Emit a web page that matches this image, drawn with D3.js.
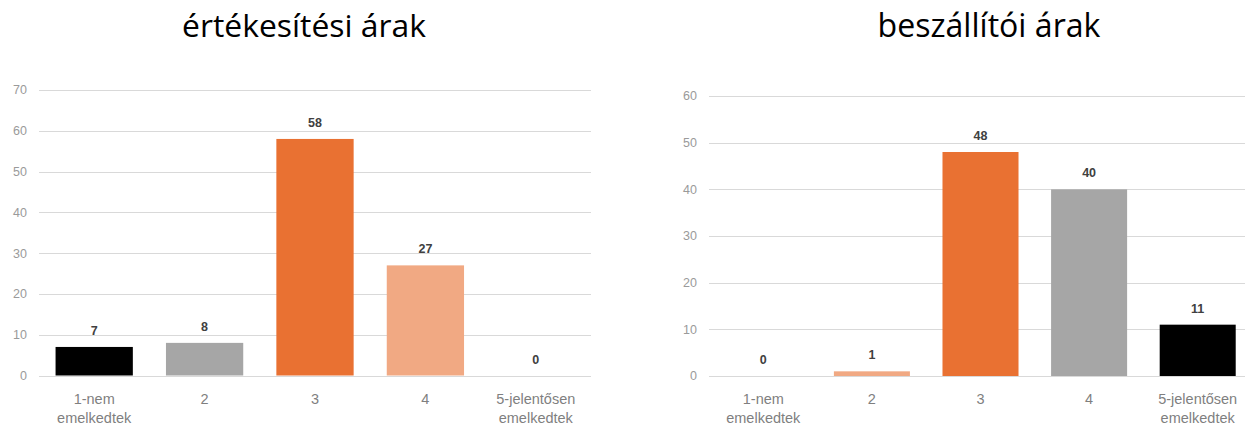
<!DOCTYPE html>
<html>
<head>
<meta charset="utf-8">
<script src="https://cdn.jsdelivr.net/npm/d3@7"></script>
<style>
  html, body { margin: 0; padding: 0; background: #fff; }
  svg { display: block; }
</style>
</head>
<body>
<svg id="chart" width="1245" height="426"></svg>
<script>
// ---- data ----
const categories = ["1-nem\nemelkedtek", "2", "3", "4", "5-jelentősen\nemelkedtek"];
const salesTitle = "értékesítési árak";
const salesValues = [7, 8, 58, 27, 0];
const salesColors = ["#000000", "#A6A6A6", "#E97132", "#F1A983", "#000000"];
const salesTicks = [0, 10, 20, 30, 40, 50, 60, 70];

const supplierTitle = "beszállítói árak";
const supplierValues = [0, 1, 48, 40, 11];
const supplierColors = ["#000000", "#F1A983", "#E97132", "#A6A6A6", "#000000"];
const supplierTicks = [0, 10, 20, 30, 40, 50, 60];

const svg = d3.select("#chart");

function drawPanel(cfg) {
  const g = svg.append("g");
  const x = d3.scaleBand().domain(categories).range([cfg.x0, cfg.x1]).paddingInner(0.3).paddingOuter(0.15);
  const y = d3.scaleLinear().domain([0, d3.max(cfg.ticks)]).range([cfg.y0, cfg.y1]);

  // gridlines
  g.append("g").selectAll("line").data(cfg.ticks).join("line")
    .attr("x1", cfg.x0).attr("x2", cfg.x1)
    .attr("y1", d => Math.round(y(d)) + 0.5).attr("y2", d => Math.round(y(d)) + 0.5)
    .attr("stroke", "#D9D9D9").attr("stroke-width", 1.2);

  // y tick labels
  g.append("g").selectAll("text").data(cfg.ticks).join("text")
    .attr("x", cfg.x0 - 12).attr("y", d => y(d))
    .attr("dy", "0.35em")
    .attr("text-anchor", "end")
    .attr("font-family", "Liberation Sans, Arial, sans-serif")
    .attr("font-size", 12.5)
    .attr("fill", "#9A9A9A")
    .text(d => d);

  // bars
  g.append("g").selectAll("rect").data(cfg.values).join("rect")
    .attr("x", (d, i) => x(categories[i]))
    .attr("width", x.bandwidth())
    .attr("y", d => y(d))
    .attr("height", d => y(0) - y(d))
    .attr("fill", (d, i) => cfg.colors[i]);

  // value labels
  g.append("g").selectAll("text").data(cfg.values).join("text")
    .attr("x", (d, i) => x(categories[i]) + x.bandwidth() / 2)
    .attr("y", d => y(d) - 12)
    .attr("text-anchor", "middle")
    .attr("font-family", "Liberation Sans, Arial, sans-serif")
    .attr("font-weight", "bold")
    .attr("font-size", 12.5)
    .attr("fill", "#404040")
    .text(d => d);

  // category labels
  const cl = g.append("g").selectAll("text").data(categories).join("text")
    .attr("x", d => x(d) + x.bandwidth() / 2)
    .attr("y", cfg.y0 + 28)
    .attr("text-anchor", "middle")
    .attr("font-family", "Liberation Sans, Arial, sans-serif")
    .attr("font-size", 14.5)
    .attr("fill", "#7F7F7F");
  cl.each(function(d) {
    const t = d3.select(this);
    d.split("\n").forEach((line, i) => {
      t.append("tspan").attr("x", t.attr("x")).attr("dy", i === 0 ? 0 : 19).text(line);
    });
  });

  // title
  const title = g.append("text")
    .attr("x", cfg.titleX).attr("y", 37)
    .attr("text-anchor", "middle")
    .attr("font-family", "'Open Sans', 'Noto Sans', sans-serif")
    .attr("font-weight", 400)
    .attr("font-size", 25)
    .attr("fill", "#000")
    .text(cfg.title);
  const w = title.node().getComputedTextLength();
  title.attr("font-size", 25 * cfg.titleW / w);
}

drawPanel({ title: salesTitle, values: salesValues, colors: salesColors, ticks: salesTicks,
  x0: 39, x1: 591, y0: 375.5, y1: 90, titleX: 304, titleW: 244 });
drawPanel({ title: supplierTitle, values: supplierValues, colors: supplierColors, ticks: supplierTicks,
  x0: 709, x1: 1252, y0: 376, y1: 96, titleX: 989, titleW: 223 });
</script>
</body>
</html>
